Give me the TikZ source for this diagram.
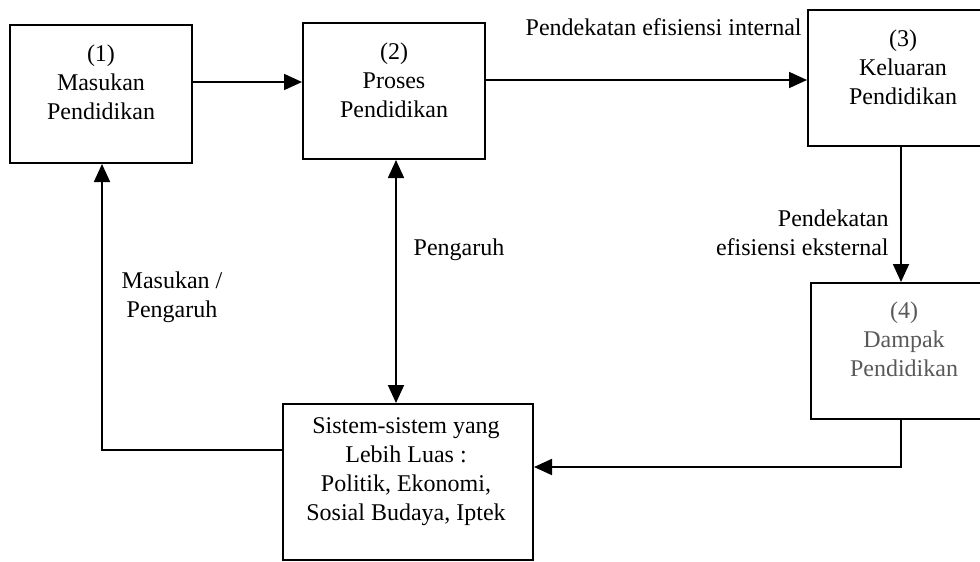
\documentclass[tikz,border=0pt]{standalone}
\usepackage{fontspec}
\setmainfont{Liberation Serif}
\usetikzlibrary{arrows.meta}
\begin{document}
\begin{tikzpicture}[x=0.5pt,y=-0.5pt,
  box/.style={draw, line width=1pt, inner sep=0pt},
  txt/.style={align=center, inner sep=0pt, font=\fontsize{12}{14.5}\selectfont},
  arr/.style={line width=0.9pt, -{Triangle[length=9pt,width=8pt]}},
  arrtwo/.style={line width=0.9pt, {Triangle[length=9pt,width=8pt]}-{Triangle[length=9pt,width=8pt]}}]
\useasboundingbox (0,0) rectangle (980,562);
\clip (0,0) rectangle (980,562);
% boxes
\node[box, minimum width=91pt, minimum height=69pt] (b1) at (101,94) {};
\node[box, minimum width=91pt, minimum height=68pt] (b2) at (394,91) {};
\node[box, minimum width=95pt, minimum height=68pt] (b3) at (903,78) {};
\node[box, minimum width=93pt, minimum height=68pt] (b4) at (904,351) {};
\node[box, minimum width=125pt, minimum height=78pt] (b5) at (408,482) {};
% box texts
\node[txt] (t1) at (101,82) {(1)\\Masukan\\Pendidikan};
\node[txt] (t2) at (394,80) {(2)\\Proses\\Pendidikan};
\node[txt] (t3) at (903,67) {(3)\\Keluaran\\Pendidikan};
\node[txt, text=black!65] (t4) at (904,339) {(4)\\Dampak\\Pendidikan};
\node[txt] (t5) at (406,472) {Sistem-sistem yang\\Lebih Luas :\\Politik, Ekonomi,\\Sosial Budaya, Iptek};
% labels
\node[txt, anchor=east] (lint) at (802,27) {Pendekatan efisiensi internal};
\node[txt, anchor=east, align=right] (lext) at (889,233) {Pendekatan\\efisiensi eksternal};
\node[txt] (lmp) at (172,297) {Masukan /\\Pengaruh};
\node[txt] (lp) at (459,250) {Pengaruh};
% helper coordinates
\coordinate (c34) at (901,0);
\coordinate (c45) at (0,467);
\coordinate (cL) at (102,450);
\coordinate (cP) at (396,0);
% connectors
\draw[arr] (b1.east |- t1.center) -- (b2.west |- t1.center);
\draw[arr] (b2.east |- t2.center) -- (b3.west |- t2.center);
\draw[arr] (b3.south -| c34) -- (b4.north -| c34);
\draw[arr] (b4.south -| c34) |- (b5.east |- c45);
\draw[arr] (b5.west |- cL) -| (b1.south -| cL);
\draw[arrtwo] (b2.south -| cP) -- (b5.north -| cP);
\end{tikzpicture}
\end{document}
